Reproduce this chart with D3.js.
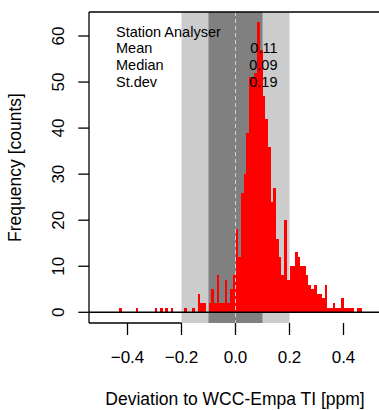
<!DOCTYPE html>
<html><head><meta charset="utf-8">
<script src="https://cdn.jsdelivr.net/npm/d3@7"></script>
<style>
body{margin:0;background:#fff;}
svg{display:block;}
text{font-family:"Liberation Sans",Arial,sans-serif;fill:#000;}
</style>
</head><body>
<svg id="chart" width="379" height="410"></svg>
<script>
// ---- data (histogram, bin width 0.01 ppm) ----
const binStarts = [-0.43,-0.37,-0.30,-0.28,-0.26,-0.24,-0.19,-0.16,-0.14,-0.13,-0.12,-0.10,-0.09,-0.08,-0.07,-0.06,-0.05,-0.04,-0.03,-0.02,-0.01,
  0.00,0.01,0.02,0.03,0.04,0.05,0.06,0.07,0.08,0.09,0.10,0.11,0.12,0.13,0.14,0.15,0.16,0.17,0.18,0.19,
  0.20,0.21,0.22,0.23,0.24,0.25,0.26,0.27,0.28,0.29,0.30,0.31,0.32,0.33,0.34,0.35,0.36,0.37,0.38,0.39,
  0.40,0.41,0.42,0.43,0.45,0.46];
const counts = [1,1,1,1,1,1,1,1,4,2,2,2,5,2,8,2,2,7,2,5,8,
  18,12,26,30,39,51,51,52,63,57,47,42,36,24,27,16,12,8,20,7,
  10,10,13,12,10,10,8,6,5,6,4,4,3,6,1,1,2,1,1,3,
  1,1,1,1,1,1];
const binWidth = 0.01;
const xTicks = [-0.4,-0.2,0.0,0.2,0.4];
const yTicks = [0,10,20,30,40,50,60];
const statLabels = ["Station Analyser","Mean","Median","St.dev"];
const statValues = ["","0.11","0.09","0.19"];
const bandOuter = [-0.2,0.2];
const bandInner = [-0.1,0.1];
const xTitle = "Deviation to WCC-Empa TI [ppm]";
const yTitle = "Frequency [counts]";

// ---- layout ----
const plot = {left:89, right:381, top:12, bottom:323};
const x = d3.scaleLinear().domain([-0.5,0.5]).range([100.5,370.5]);
const y = d3.scaleLinear().domain([0,60]).range([312.3,36]);
const svg = d3.select("#chart");

// bands
svg.append("rect").attr("x",x(bandOuter[0])).attr("y",plot.top)
  .attr("width",x(bandOuter[1])-x(bandOuter[0])).attr("height",plot.bottom-plot.top)
  .attr("fill","#cccccc");
svg.append("rect").attr("x",x(bandInner[0])).attr("y",plot.top)
  .attr("width",x(bandInner[1])-x(bandInner[0])).attr("height",plot.bottom-plot.top)
  .attr("fill","#808080");

// bars
const data = binStarts.map((b,i)=>({b, c:counts[i]}));
svg.append("g").selectAll("rect").data(data).join("rect")
  .attr("x",d=>x(d.b))
  .attr("width",d=>x(d.b+binWidth)-x(d.b))
  .attr("y",d=>y(d.c))
  .attr("height",d=>y(0)-y(d.c))
  .attr("fill","#ff0000")
  .attr("shape-rendering","crispEdges");

// dashed zero line
svg.append("line").attr("x1",x(0)).attr("x2",x(0)).attr("y1",plot.top).attr("y2",plot.bottom)
  .attr("stroke","#d0d0d0").attr("stroke-width",1).attr("stroke-dasharray","4,3");

// horizontal zero line
svg.append("line").attr("x1",plot.left).attr("x2",plot.right).attr("y1",y(0)).attr("y2",y(0))
  .attr("stroke","#000").attr("stroke-width",1.5);

// box parts
svg.append("line").attr("x1",plot.left).attr("x2",plot.left).attr("y1",plot.top).attr("y2",plot.bottom)
  .attr("stroke","#000").attr("stroke-width",1.3);
svg.append("line").attr("x1",plot.left).attr("x2",plot.right).attr("y1",plot.top).attr("y2",plot.top)
  .attr("stroke","#000").attr("stroke-width",1.3);
svg.append("line").attr("x1",plot.left).attr("x2",x(bandOuter[0])).attr("y1",plot.bottom).attr("y2",plot.bottom)
  .attr("stroke","#000").attr("stroke-width",1.3);

// y axis ticks & labels
const yg = svg.append("g");
yg.selectAll("line").data(yTicks).join("line")
  .attr("x1",78.3).attr("x2",plot.left).attr("y1",d=>y(d)).attr("y2",d=>y(d))
  .attr("stroke","#000").attr("stroke-width",1.3);
yg.selectAll("text").data(yTicks).join("text")
  .attr("transform",d=>`translate(63.5,${y(d)}) rotate(-90)`)
  .attr("text-anchor","middle").attr("font-size","17px").text(d=>d);

// x axis ticks & labels
const xg = svg.append("g");
xg.selectAll("line").data(xTicks).join("line")
  .attr("x1",d=>x(d)).attr("x2",d=>x(d)).attr("y1",plot.bottom).attr("y2",335)
  .attr("stroke","#000").attr("stroke-width",1.3);
xg.selectAll("text").data(xTicks).join("text")
  .attr("x",d=>x(d)).attr("y",363.3).attr("text-anchor","middle").attr("font-size","17px")
  .text(d=>d3.format(".1f")(d));

// titles
svg.append("text").attr("x",(plot.left+plot.right)/2).attr("y",405).attr("text-anchor","middle")
  .attr("font-size","17.5px").text(xTitle);
svg.append("text").attr("transform",`translate(20.5,${(plot.top+plot.bottom)/2}) rotate(-90)`)
  .attr("text-anchor","middle").attr("font-size","17.5px").text(yTitle);

// legend
const lg = svg.append("g");
lg.selectAll("text.l").data(statLabels).join("text").attr("class","l")
  .attr("x",116).attr("y",(d,i)=>36.5+i*16.8).attr("font-size","14.5px").text(d=>d);
lg.selectAll("text.v").data(statValues).join("text").attr("class","v")
  .attr("x",277.5).attr("y",(d,i)=>36.5+i*16.8).attr("text-anchor","end").attr("font-size","14.5px").text(d=>d);
</script>
</body></html>
